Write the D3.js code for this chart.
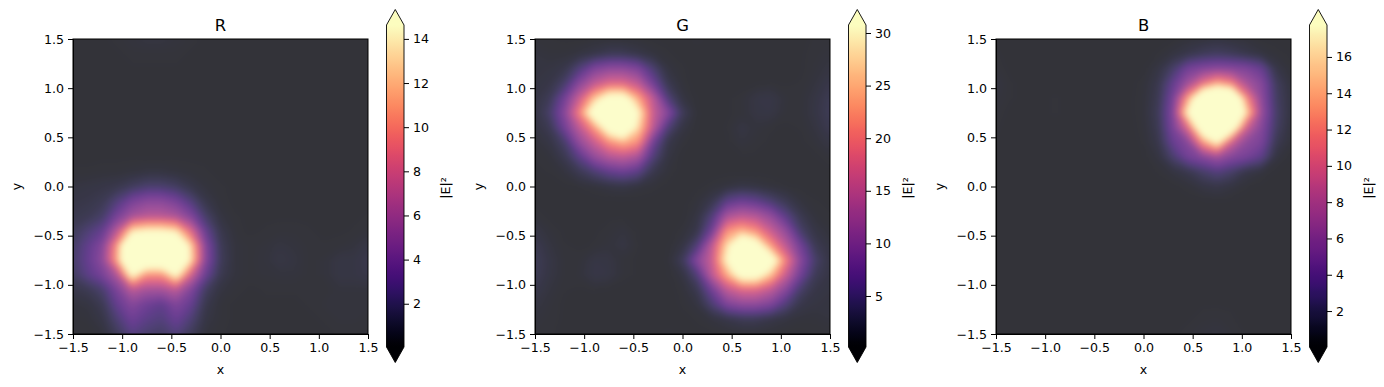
<!DOCTYPE html>
<html>
<head>
<meta charset="utf-8">
<script src="https://cdn.jsdelivr.net/npm/d3@7"></script>
<style>
    body { margin: 0; background: #fff; }
    text { font-family: "DejaVu Sans", sans-serif; fill: #000; }
    .tick text { font-size: 12.6px; }
    .tick line, .domain { stroke: #000; stroke-width: 1px; }
</style>
</head>
<body>
<div id="chart"></div>
<script>
/*
*    |E|^2 heatmaps for the R, G, B channels with colorbars
*/

// rows run from y = 1.5 down to y = -1.5, columns from x = -1.5 to x = 1.5
var xyTicks = [-1.5, -1.0, -0.5, 0.0, 0.5, 1.0, 1.5];

var rTicks = [2, 4, 6, 8, 10, 12, 14];
var gTicks = [5, 10, 15, 20, 25, 30];
var bTicks = [2, 4, 6, 8, 10, 12, 14, 16];

var rRange = [0.04, 14.63];
var gRange = [0.15, 30.76];
var bRange = [0.02, 17.76];

var rValues = [
    [.3,.3,.3,.4,.5,.6,.6,.5,.4,.3,.3,.3,.3,.3,.3,.3,.3,.3,.3,.3,.3],
    [.3,.3,.3,.3,.4,.4,.4,.4,.3,.3,.3,.3,.3,.3,.3,.3,.3,.3,.3,.3,.3],
    [.3,.3,.3,.3,.3,.3,.3,.3,.3,.3,.3,.3,.3,.3,.3,.3,.3,.3,.3,.3,.3],
    [.3,.3,.3,.3,.3,.3,.3,.3,.3,.3,.3,.3,.3,.3,.3,.3,.3,.3,.3,.3,.3],
    [.3,.3,.3,.3,.3,.3,.3,.3,.3,.3,.3,.3,.3,.3,.3,.3,.3,.3,.3,.3,.3],
    [.3,.3,.3,.3,.3,.3,.3,.3,.3,.3,.3,.3,.3,.3,.3,.3,.3,.3,.3,.3,.3],
    [.3,.3,.3,.3,.3,.3,.3,.3,.3,.3,.3,.3,.3,.3,.3,.3,.3,.3,.3,.3,.3],
    [.3,.3,.3,.3,.3,.3,.3,.3,.3,.3,.3,.3,.3,.3,.3,.3,.3,.3,.3,.3,.3],
    [.3,.3,.3,.3,.3,.3,.3,.3,.3,.3,.3,.3,.3,.3,.3,.3,.3,.3,.3,.3,.3],
    [.35,.35,.4,.4,.5,.6,.6,.5,.4,.35,.3,.3,.3,.3,.3,.3,.3,.3,.3,.3,.3],
    [.6,.7,.8,1.0,1.5,2.0,2.0,1.6,.9,.5,.35,.3,.3,.3,.3,.3,.3,.3,.3,.3,.3],
    [.8,.9,1.2,2.4,4.0,4.8,4.8,4.0,2.4,.9,.4,.3,.3,.3,.3,.3,.3,.3,.3,.3,.3],
    [1.0,1.2,1.8,4.0,6.0,6.8,6.8,6.2,4.4,1.8,.6,.35,.3,.3,.3,.3,.3,.3,.3,.3,.35],
    [1.4,2.2,3.2,7.0,13.5,14.5,14.5,13.5,8.5,3.2,1.0,.4,.3,.35,.4,.4,.35,.3,.3,.35,.45],
    [1.8,3.0,4.6,11,24,26,26,24,13,4.5,1.3,.5,.4,.45,.6,.5,.4,.35,.4,.5,.8],
    [1.9,3.2,5.0,11.5,24,18.5,18.5,24,13.5,4.6,1.4,.5,.4,.5,.7,.6,.4,.45,.7,.7,1.0],
    [1.6,2.8,4.0,6.5,15,10.5,10.5,15,8,3.4,1.1,.5,.4,.45,.5,.5,.4,.45,.7,.7,.9],
    [.9,1.2,2.0,4.2,7,6,6,7,4.4,1.6,.6,.4,.3,.35,.35,.35,.35,.35,.5,.5,.5],
    [.5,.6,1.2,3.2,4.6,3.6,3.0,4.4,3.2,1.0,.4,.3,.3,.3,.3,.3,.35,.45,.5,.5,.45],
    [.4,.45,.8,2.2,3.6,2.8,2.4,3.4,2.2,.7,.4,.3,.3,.3,.3,.3,.3,.35,.45,.45,.4],
    [.35,.35,.5,1.4,2.6,2.0,1.7,2.4,1.4,.5,.35,.3,.3,.3,.3,.3,.3,.3,.35,.35,.3]
];

var gValues = [
    [.9,.8,.7,.7,.8,.8,.8,.8,.7,.7,.7,.8,.7,.6,.6,.6,.6,.6,.7,.8,.9],
    [1.2,1.0,1.0,1.3,1.8,2.6,2.6,1.8,1.2,.8,.7,.7,.6,.6,.6,.6,.6,.6,.7,.9,1.1],
    [1.3,1.4,2.0,5,9,10.5,10.5,9,4.5,1.3,.8,.6,.6,.6,.6,.6,.6,.6,.7,1.0,1.4],
    [1.4,1.8,4,10,15,18,18,15,8,2.4,.9,.6,.6,.6,.6,.7,.8,.7,.8,1.2,2.0],
    [1.6,2.8,8,16,26,34,34,24,15,5,1.4,.7,.6,.7,.9,1.6,1.8,1.0,.9,1.5,2.6],
    [1.6,4,10,21,36,46,46,31,16,10,3,.8,.6,.7,.9,1.5,1.6,.9,.9,1.6,2.8],
    [1.4,2.6,8,15,23,35,42,28,15,5,1.5,.7,.6,.8,1.5,1.1,.8,.7,.8,1.3,2.4],
    [1,1.6,4,11,16,22,25,22,8,2,.9,.6,.6,.7,1.2,.9,.7,.6,.7,1,1.6],
    [.8,1,2.4,6,11,14,15,13,5,1.4,.7,.6,.6,.6,.7,.7,.6,.6,.6,.7,1],
    [.7,.8,1.2,2.6,4.5,6.5,7.5,6,2.2,1.0,.6,.6,.6,.6,.6,.6,.6,.6,.6,.6,.7],
    [.6,.6,.7,.8,1.0,1.4,1.6,1.2,.9,.7,.6,.7,.9,1.2,1.6,1.4,1.0,.8,.7,.6,.6],
    [.7,.6,.6,.6,.6,.6,.6,.6,.6,.6,.6,1.0,2.2,6,7.5,6.5,4.5,2.6,1.2,.8,.7],
    [1,.7,.6,.6,.7,.7,.7,.6,.6,.6,.7,1.4,5,13,15,14,11,6,2.4,1,.8],
    [1.6,1,.7,.6,.7,.9,1.2,.7,.6,.6,.9,2,8,22,25,22,16,11,4,1.6,1],
    [2.4,1.3,.8,.7,.8,1.1,1.5,.8,.6,.7,1.5,5,15,28,42,35,23,15,8,2.6,1.4],
    [2.8,1.6,.9,.9,1.6,1.5,.9,.7,.6,.8,3,10,16,31,46,46,36,21,10,4,1.6],
    [2.6,1.5,.9,1.0,1.8,1.6,.9,.7,.6,.7,1.4,5,15,24,34,34,26,16,8,2.8,1.6],
    [2,1.2,.8,.7,.8,.7,.6,.6,.6,.6,.9,2.4,8,15,18,18,15,10,4,1.8,1.4],
    [1.4,1,.7,.6,.6,.6,.6,.6,.6,.6,.8,1.3,4.5,9,10.5,10.5,9,5,2.0,1.4,1.3],
    [1.1,.9,.7,.6,.6,.6,.6,.6,.6,.7,.7,.8,1.2,1.8,2.6,2.6,1.8,1.3,1,1,1.2],
    [.9,.8,.7,.6,.6,.6,.6,.6,.7,.8,.7,.7,.7,.8,.8,.8,.8,.7,.7,.8,.9]
];

var bValues = [
    [.3,.3,.3,.3,.3,.3,.3,.3,.3,.3,.3,.3,.35,.5,.6,.7,.6,.5,.35,.3,.3],
    [.4,.3,.3,.3,.3,.3,.3,.3,.3,.3,.3,.4,.7,1.1,1.6,1.9,1.6,1.1,.7,.45,.35],
    [.5,.3,.3,.3,.3,.3,.3,.3,.3,.3,.35,.8,2.2,4.6,5.4,5.8,5.6,5.2,4,1,.4],
    [.7,.4,.3,.3,.3,.3,.3,.3,.3,.3,.45,1.2,3.8,7,11,14,12,7.5,5.6,1.8,.6],
    [.6,.4,.3,.3,.4,.3,.3,.3,.3,.3,.5,1.4,4.8,13.5,24,29,26,12.5,6,2,.7],
    [.5,.3,.3,.3,.4,.3,.3,.3,.3,.3,.5,1.6,5.4,18,31,34,31,16,6.5,2.2,.7],
    [.4,.3,.3,.3,.3,.3,.3,.3,.3,.3,.45,1.4,5,10.5,22,27,21,9.5,5.6,2,.6],
    [.35,.3,.3,.3,.3,.3,.3,.3,.3,.3,.4,1.1,4,5.6,13,18,9.5,6,5,1.4,.5],
    [.3,.3,.3,.3,.3,.3,.3,.3,.3,.3,.35,.7,2.4,4.6,5.6,7,5.5,4.8,3.5,.7,.35],
    [.3,.3,.3,.3,.3,.3,.3,.3,.3,.3,.3,.4,.7,1.2,2.2,3,2.2,1,.6,.35,.3],
    [.3,.3,.3,.3,.3,.3,.3,.3,.3,.3,.3,.3,.35,.45,.8,1,.7,.4,.3,.3,.3],
    [.3,.3,.3,.3,.3,.3,.3,.3,.3,.3,.3,.3,.3,.3,.3,.35,.3,.3,.3,.3,.3],
    [.3,.3,.3,.3,.3,.3,.3,.3,.3,.3,.3,.3,.3,.3,.3,.3,.3,.3,.3,.3,.3],
    [.3,.3,.3,.3,.3,.3,.3,.3,.3,.3,.3,.3,.3,.3,.3,.3,.3,.3,.3,.3,.3],
    [.3,.3,.3,.3,.3,.3,.3,.3,.3,.3,.3,.3,.3,.3,.3,.3,.3,.3,.3,.3,.3],
    [.3,.3,.3,.3,.3,.3,.3,.3,.3,.3,.3,.3,.3,.3,.3,.3,.3,.3,.3,.3,.3],
    [.3,.3,.3,.3,.3,.3,.3,.3,.3,.3,.3,.3,.3,.3,.3,.3,.3,.3,.3,.3,.3],
    [.3,.3,.3,.3,.3,.3,.3,.3,.3,.3,.3,.3,.3,.3,.3,.3,.3,.3,.3,.3,.3],
    [.3,.3,.3,.3,.3,.3,.3,.3,.3,.3,.3,.3,.3,.3,.35,.35,.35,.3,.3,.3,.3],
    [.3,.3,.3,.3,.3,.3,.3,.3,.3,.3,.3,.3,.3,.35,.45,.5,.4,.3,.3,.3,.3],
    [.3,.3,.3,.3,.3,.3,.3,.3,.3,.3,.3,.3,.35,.45,.6,.7,.5,.35,.3,.3,.3]
];

HeatPanel = function(_svg, _left, _title, _values, _range, _ticks){
    this.svg = _svg;
    this.left = _left;
    this.title = _title;
    this.values = _values;
    this.range = _range;
    this.ticks = _ticks;

    this.initVis();
};

HeatPanel.prototype.initVis = function(){
    var vis = this;

    vis.size = 295;
    vis.top = 39;
    vis.g = vis.svg.append("g")
        .attr("transform", "translate(" + vis.left + "," + vis.top + ")");

    vis.x = d3.scaleLinear().domain([-1.5, 1.5]).range([0, vis.size]);
    vis.y = d3.scaleLinear().domain([-1.5, 1.5]).range([vis.size, 0]);
    vis.color = d3.scaleSequential(d3.interpolateMagma).domain(vis.range).clamp(true);

    vis.drawHeat();
    vis.drawAxes();
    vis.drawColorbar();
};

HeatPanel.prototype.drawHeat = function(){
    var vis = this;

    var rows = vis.values.length;
    var cols = vis.values[0].length;
    var clipId = "clip-" + vis.title;
    var blurId = "blur-" + vis.title;

    vis.g.append("clipPath")
        .attr("id", clipId)
        .append("rect")
        .attr("width", vis.size)
        .attr("height", vis.size);

    // softens the corners of the contour bands
    vis.g.append("filter")
        .attr("id", blurId)
        .attr("filterUnits", "userSpaceOnUse")
        .attr("x", -20).attr("y", -20)
        .attr("width", vis.size + 40).attr("height", vis.size + 40)
        .attr("color-interpolation-filters", "sRGB")
        .append("feGaussianBlur")
        .attr("stdDeviation", 3);

    // grid index to pixel, d3.contours puts value i at i + 0.5
    var gx = d3.scaleLinear().domain([0.5, cols - 0.5]).range([0, vis.size]);
    var gy = d3.scaleLinear().domain([0.5, rows - 0.5]).range([0, vis.size]);
    var toPixels = d3.geoTransform({
        point: function(px, py) { this.stream.point(gx(px), gy(py)); }
    });

    var step = (vis.range[1] - vis.range[0]) / 150;
    var contours = d3.contours()
        .size([cols, rows])
        .thresholds(d3.range(vis.range[0], vis.range[1] + step, step))(d3.merge(vis.values));

    var layer = vis.g.append("g")
        .attr("clip-path", "url(#" + clipId + ")")
        .attr("opacity", 0.8);

    var blurred = layer.append("g")
        .attr("filter", "url(#" + blurId + ")");

    blurred.append("rect")
        .attr("x", -20)
        .attr("y", -20)
        .attr("width", vis.size + 40)
        .attr("height", vis.size + 40)
        .attr("fill", vis.color(vis.range[0]));

    blurred.selectAll("path")
        .data(contours)
        .enter().append("path")
        .attr("d", d3.geoPath(toPixels))
        .attr("fill", function(d) { return vis.color(d.value); });
};

HeatPanel.prototype.drawAxes = function(){
    var vis = this;

    var fmt = d3.format(".1f");

    vis.g.append("g")
        .attr("transform", "translate(0," + vis.size + ")")
        .call(d3.axisBottom(vis.x).tickValues(xyTicks).tickFormat(fmt).tickSize(5).tickPadding(4));

    vis.g.append("g")
        .call(d3.axisLeft(vis.y).tickValues(xyTicks).tickFormat(fmt).tickSize(5).tickPadding(4));

    // frame on all four sides
    vis.g.append("rect")
        .attr("width", vis.size)
        .attr("height", vis.size)
        .attr("fill", "none")
        .attr("stroke", "#000")
        .attr("stroke-width", 1);

    vis.g.append("text")
        .attr("x", vis.size / 2)
        .attr("y", -8)
        .attr("text-anchor", "middle")
        .style("font-size", "16.4px")
        .text(vis.title);

    vis.g.append("text")
        .attr("x", vis.size / 2)
        .attr("y", vis.size + 39.5)
        .attr("text-anchor", "middle")
        .style("font-size", "12.6px")
        .text("x");

    vis.g.append("text")
        .attr("transform", "translate(-52," + (vis.size / 2) + ") rotate(-90)")
        .attr("text-anchor", "middle")
        .style("font-size", "12.6px")
        .text("y");
};

HeatPanel.prototype.drawColorbar = function(){
    var vis = this;

    var barLeft = vis.size + 18.5;
    var barWidth = 17.5;
    var barTop = -14;
    var barBottom = 308;
    var tip = 15.5;

    var cb = vis.g.append("g")
        .attr("transform", "translate(" + barLeft + ",0)");

    var scale = d3.scaleLinear().domain(vis.range).range([barBottom, barTop]);

    var gradId = "grad-" + vis.title;
    cb.append("linearGradient")
        .attr("id", gradId)
        .attr("x1", 0).attr("x2", 0)
        .attr("y1", 1).attr("y2", 0)
        .selectAll("stop")
        .data(d3.range(0, 65))
        .enter().append("stop")
        .attr("offset", function(d) { return (d / 64 * 100) + "%"; })
        .attr("stop-color", function(d) {
            return vis.color(vis.range[0] + (vis.range[1] - vis.range[0]) * d / 64);
        });

    cb.append("rect")
        .attr("x", 0)
        .attr("y", scale(vis.range[1]))
        .attr("width", barWidth)
        .attr("height", scale(vis.range[0]) - scale(vis.range[1]))
        .attr("fill", "url(#" + gradId + ")");

    cb.append("path")
        .attr("d", "M0," + barTop + "L" + (barWidth / 2) + "," + (barTop - tip) + "L" + barWidth + "," + barTop + "Z")
        .attr("fill", vis.color(vis.range[1]));

    cb.append("path")
        .attr("d", "M0," + barBottom + "L" + (barWidth / 2) + "," + (barBottom + tip) + "L" + barWidth + "," + barBottom + "Z")
        .attr("fill", vis.color(vis.range[0]));

    cb.append("path")
        .attr("d", "M0," + barTop + "L" + (barWidth / 2) + "," + (barTop - tip) + "L" + barWidth + "," + barTop
            + "L" + barWidth + "," + barBottom + "L" + (barWidth / 2) + "," + (barBottom + tip) + "L0," + barBottom + "Z")
        .attr("fill", "none")
        .attr("stroke", "#000")
        .attr("stroke-width", 0.9);

    var axis = cb.append("g")
        .attr("transform", "translate(" + barWidth + ",0)")
        .call(d3.axisRight(scale).tickValues(vis.ticks).tickFormat(d3.format("d")).tickSize(5).tickPadding(4));
    axis.select(".domain").remove();

    vis.g.append("text")
        .attr("transform", "translate(" + (vis.size + 81.5) + "," + (vis.size / 2 + 1.5) + ") rotate(-90)")
        .attr("text-anchor", "middle")
        .style("font-size", "12.6px")
        .text("|E|²");
};

var svg = d3.select("#chart").append("svg")
    .attr("width", 1384)
    .attr("height", 387)
    .style("display", "block");

new HeatPanel(svg, 73, "R", rValues, rRange, rTicks);
new HeatPanel(svg, 535, "G", gValues, gRange, gTicks);
new HeatPanel(svg, 996, "B", bValues, bRange, bTicks);
</script>
</body>
</html>
